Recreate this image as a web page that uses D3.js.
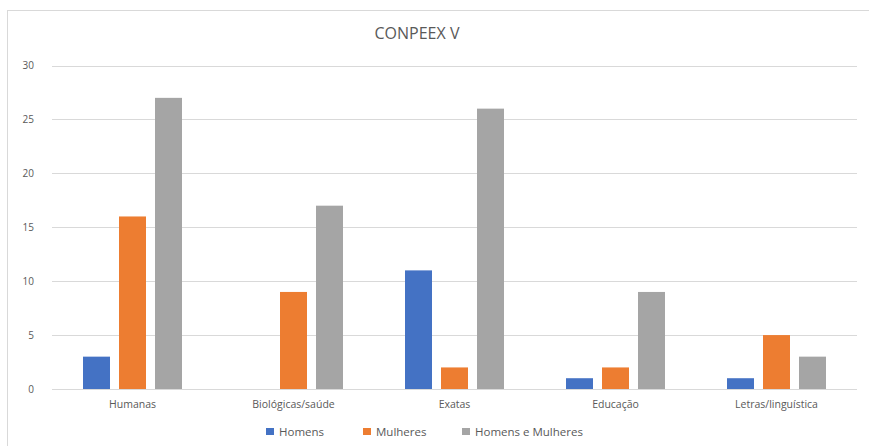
<!DOCTYPE html>
<html>
<head>
<meta charset="utf-8">
<script src="https://cdn.jsdelivr.net/npm/d3@7"></script>
<style>
  html, body { margin: 0; padding: 0; background: #fff; }
  svg { display: block; font-family: "Open Sans", "Noto Sans", sans-serif; }
</style>
</head>
<body>
<svg id="chart" width="869" height="446"></svg>
<script>
// Participants per area at CONPEEX V
const categories = ["Humanas", "Biológicas/saúde", "Exatas", "Educação", "Letras/linguística"];
const seriesNames = ["Homens", "Mulheres", "Homens e Mulheres"];
const homens = [3, 0, 11, 1, 1];
const mulheres = [16, 9, 2, 2, 5];
const homensEMulheres = [27, 17, 26, 9, 3];
const yTicks = [0, 5, 10, 15, 20, 25, 30];
const colors = ["#4472C4", "#ED7D31", "#A5A5A5"];

const seriesValues = [homens, mulheres, homensEMulheres];

const svg = d3.select("#chart");
const W = 869, H = 446;
const plot = { left: 52, right: 857, top: 65.5, bottom: 389 };

// Chart frame
svg.append("rect")
  .attr("x", 7.5).attr("y", 10.5)
  .attr("width", W + 10).attr("height", H + 10)
  .attr("fill", "#fff").attr("stroke", "#D9D9D9").attr("stroke-width", 1);

const x = d3.scaleBand().domain(categories).range([plot.left, plot.right]).padding(0);
const y = d3.scaleLinear().domain([0, 30]).range([plot.bottom, plot.top]);

const groupWidth = 99;
const xs = d3.scaleBand().domain(seriesNames)
  .range([(x.bandwidth() - groupWidth) / 2, (x.bandwidth() + groupWidth) / 2])
  .paddingInner(0.25).paddingOuter(0);

// Gridlines
svg.append("g").selectAll("line").data(yTicks.filter(d => d > 0)).join("line")
  .attr("x1", plot.left).attr("x2", plot.right)
  .attr("y1", d => Math.round(y(d)) + 0.5).attr("y2", d => Math.round(y(d)) + 0.5)
  .attr("stroke", "#D9D9D9").attr("stroke-width", 1);

// Y axis labels
const yAxis = d3.axisLeft(y).tickValues(yTicks).tickSize(0).tickPadding(0);
const gy = svg.append("g").attr("transform", `translate(${plot.left - 18},0)`).call(yAxis);
gy.select(".domain").remove();
gy.selectAll("text").attr("fill", "#595959").style("font-size", "10px")
  .attr("font-family", "'Open Sans', sans-serif");

// Bars
const groups = svg.append("g").selectAll("g").data(categories).join("g")
  .attr("transform", d => `translate(${x(d)},0)`);
groups.selectAll("rect")
  .data((c, i) => seriesNames.map((s, k) => ({ s, k, v: seriesValues[k][i] })))
  .join("rect")
  .attr("x", d => xs(d.s))
  .attr("width", xs.bandwidth())
  .attr("y", d => y(d.v))
  .attr("height", d => y(0) - y(d.v))
  .attr("fill", d => colors[d.k]);

// Baseline
svg.append("line")
  .attr("x1", plot.left).attr("x2", plot.right)
  .attr("y1", Math.round(y(0)) + 0.5).attr("y2", Math.round(y(0)) + 0.5)
  .attr("stroke", "#D9D9D9").attr("stroke-width", 1);

// X axis labels
const xAxis = d3.axisBottom(x).tickSize(0).tickPadding(0);
const gx = svg.append("g").attr("transform", `translate(0,${plot.bottom + 12})`).call(xAxis);
gx.select(".domain").remove();
gx.selectAll("text").attr("fill", "#595959").style("font-size", "10.5px")
  .attr("font-family", "'Open Sans', sans-serif");

// Title
svg.append("text")
  .attr("x", 417).attr("y", 39)
  .attr("text-anchor", "middle")
  .attr("fill", "#595959")
  .style("font-size", "16px")
  .text("CONPEEX V");

// Legend
const legendX = [266, 363, 462];
const legend = svg.append("g").selectAll("g").data(seriesNames).join("g")
  .attr("transform", (d, i) => `translate(${legendX[i]},428)`);
legend.append("rect").attr("width", 8).attr("height", 7).attr("fill", (d, i) => colors[i]);
legend.append("text")
  .attr("x", 13).attr("y", 8)
  .attr("fill", "#595959").style("font-size", "11.5px")
  .text(d => d);
</script>
</body>
</html>
